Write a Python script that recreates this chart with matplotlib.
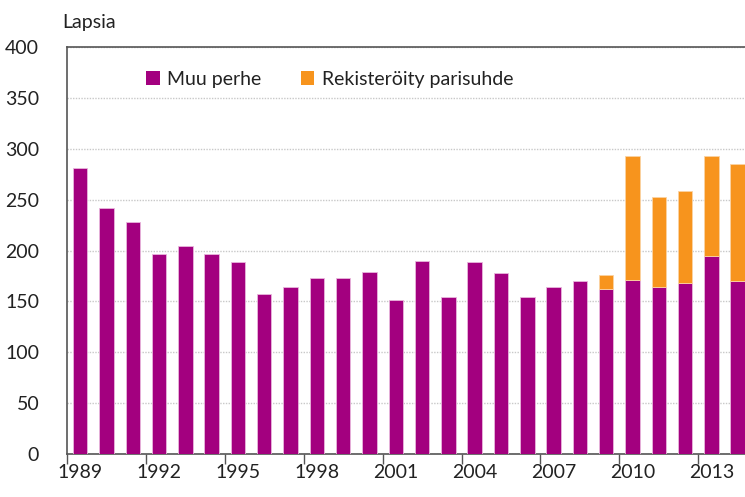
import numpy as np
import matplotlib
matplotlib.use('Agg')
import matplotlib.pyplot as plt
from matplotlib.patches import Patch

plt.rcParams['font.family'] = ['Lato', 'DejaVu Sans']

# ---------------------------------------------------------------------
#  Data
# ---------------------------------------------------------------------
years = list(range(1989, 2015))
muu_perhe = [281, 242, 228, 197, 204, 197, 189, 157, 164, 173, 173, 179, 151,
             190, 154, 189, 178, 154, 164, 170, 162, 171, 164, 168, 195, 170]
rekisteroity = [0, 0, 0, 0, 0, 0, 0, 0, 0, 0, 0, 0, 0,
                0, 0, 0, 0, 0, 0, 0, 14, 122, 89, 90, 98, 115]
tick_years = [1989, 1992, 1995, 1998, 2001, 2004, 2007, 2010, 2013]
y_ticks = [0, 50, 100, 150, 200, 250, 300, 350, 400]

purple = '#A3007F'
orange = '#F7941D'

# ---------------------------------------------------------------------
#  Chart
# ---------------------------------------------------------------------
fig = plt.figure(figsize=(7.45, 4.97), dpi=100)
ax = fig.add_axes([0.0899, 0.0865, 0.918, 0.8189])

x = np.arange(len(years))
muu = np.array(muu_perhe)
rek = np.array(rekisteroity)
ax.bar(x, muu, width=0.55, color=purple, edgecolor='#e9b6dc', linewidth=0.6, zorder=3)

# vain vuodet, joilla rekisteröityjä parisuhteita
m = rek > 0
ax.bar(x[m], rek[m], width=0.55, bottom=muu[m], color=orange,
       edgecolor='#fbd3a3', linewidth=0.6, zorder=3)

ax.set_xlim(-0.5, len(years) - 0.5)
ax.set_ylim(0, 400)

# y-akseli
ax.set_yticks(y_ticks)
ax.tick_params(axis='y', length=0, pad=20, labelsize=14, labelcolor='#222222')
ax.yaxis.grid(True, linestyle=(0, (1, 1)), color='#c8c8c8', linewidth=1.0, zorder=0)

# x-akseli: nimet keskellä, tikit luokkien välissä
ax.set_xticks([years.index(y) for y in tick_years])
ax.set_xticklabels([str(y) for y in tick_years])
ax.tick_params(axis='x', which='major', length=0, pad=7, labelsize=14, labelcolor='#222222')
ax.set_xticks([years.index(y) - 0.5 for y in tick_years], minor=True)
ax.tick_params(axis='x', which='minor', length=7, width=1, color='#555555')

for s in ax.spines.values():
    s.set_color('#555555')
    s.set_linewidth(1.2)

fig.text(0.083, 0.955, 'Lapsia', fontsize=14, color='#222222', ha='left', va='center')

handles = [Patch(facecolor=purple, label='Muu perhe'),
           Patch(facecolor=orange, label='Rekisteröity parisuhde')]
ax.legend(handles=handles, loc='upper left', bbox_to_anchor=(0.09, 0.985), ncol=2,
          frameon=False, fontsize=14, handlelength=0.7, handleheight=0.7,
          handletextpad=0.4, columnspacing=2.0, labelcolor='#222222')

plt.savefig('out.png', dpi=100)
plt.close()
